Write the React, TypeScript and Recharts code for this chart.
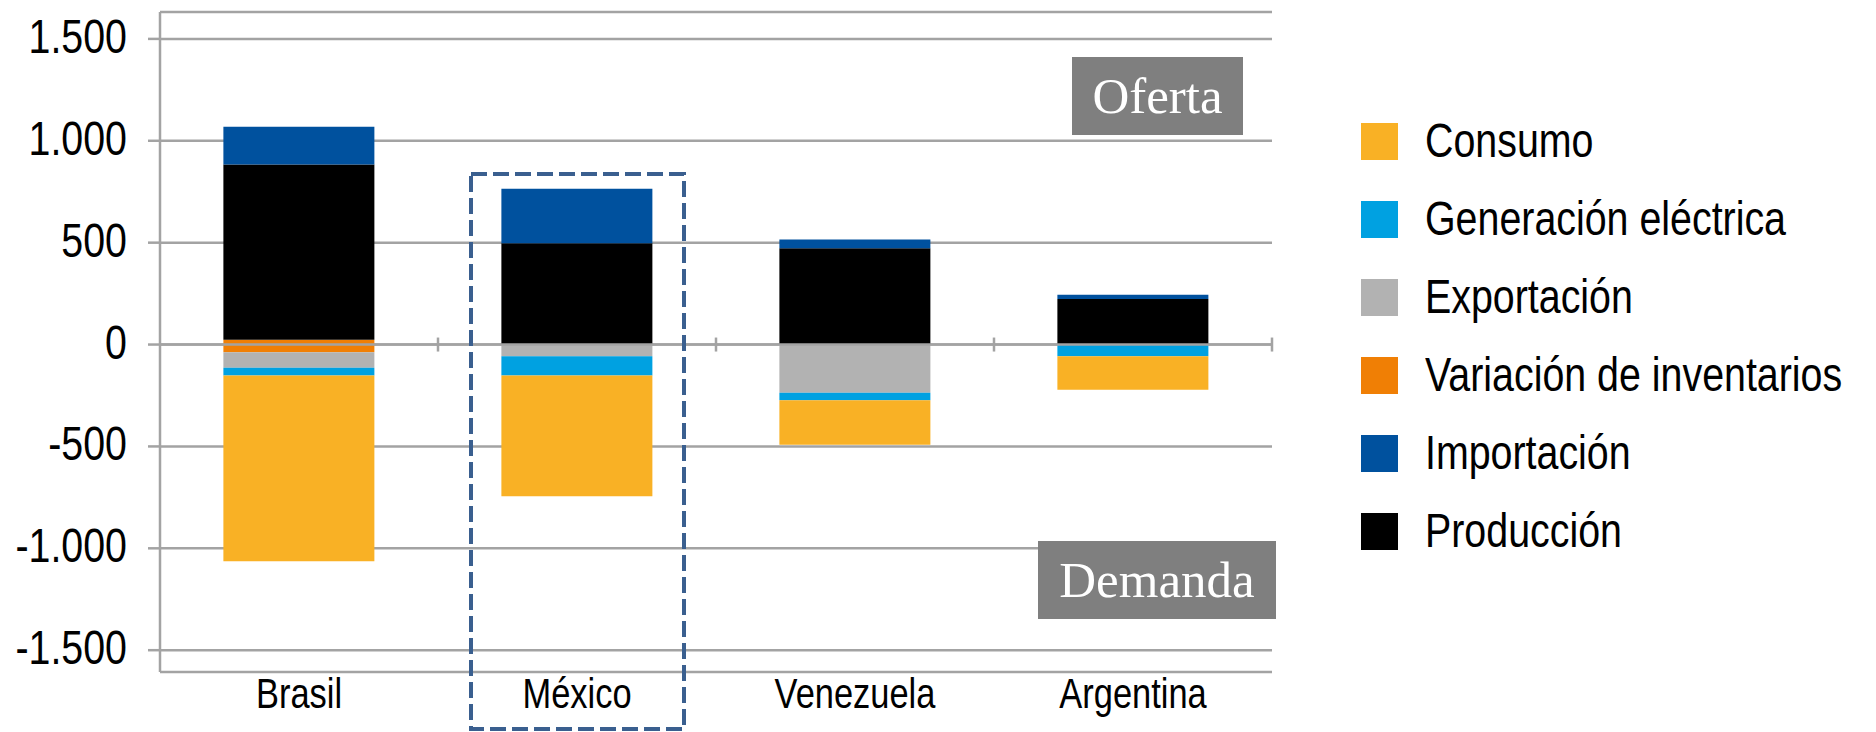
import { Bar, BarChart, CartesianGrid, Legend, ReferenceLine, XAxis, YAxis } from "recharts"

const countries = ["Brasil", "México", "Venezuela", "Argentina"]

// supply (positive) side
const produccion = [861, 497, 472, 224]
const importacion = [185, 267, 43, 20]
const variacion = [23, 0, 0, 0]
// demand (negative) side
const variacionNeg = [-38, 0, 0, 0]
const exportacion = [-76, -57, -237, 0]
const generacion = [-38, -95, -36, -57]
const consumo = [-912, -592, -219, -165]

const yTicks = [-1500, -1000, -500, 0, 500, 1000, 1500]

const colors = {
    consumo: "#F9B125",
    generacion: "#00A1E1",
    exportacion: "#B2B2B2",
    variacion: "#F07F05",
    importacion: "#00519E",
    produccion: "#000000",
}

const legendItems = [
    { key: "consumo", name: "Consumo" },
    { key: "generacion", name: "Generación eléctrica" },
    { key: "exportacion", name: "Exportación" },
    { key: "variacion", name: "Variación de inventarios" },
    { key: "importacion", name: "Importación" },
    { key: "produccion", name: "Producción" },
]

const data = countries.map((name, i) => ({
    name,
    variacion: variacion[i],
    variacionNeg: variacionNeg[i],
    exportacion: exportacion[i],
    generacion: generacion[i],
    consumo: consumo[i],
    produccion: produccion[i],
    importacion: importacion[i],
}))

// no Arial Narrow here, so squeeze Liberation Sans horizontally
const sans = "'Liberation Sans', Arial, sans-serif"
const squeeze = 0.82
const serif = "'Liberation Serif', 'Times New Roman', serif"
const gridColor = "#A3A3A3"

const formatThousands = (v: number) => {
    const s = Math.abs(v).toString().replace(/\B(?=(\d{3})+(?!\d))/g, ".")
    return v < 0 ? `-${s}` : s
}

const YTick = (props: any) => {
    const { x, y, payload } = props
    return (
        <text
            transform={`translate(${x},${y}) scale(${squeeze},1)`}
            textAnchor="end"
            dy={14}
            fontSize={48}
            fontFamily={sans}
            fill="#000"
        >
            {formatThousands(payload.value)}
        </text>
    )
}

const XTick = (props: any) => {
    const { x, y, payload } = props
    return (
        <text
            transform={`translate(${x},${y}) scale(${squeeze},1)`}
            textAnchor="middle"
            dy={30}
            fontSize={42}
            fontFamily={sans}
            fill="#000"
        >
            {payload.value}
        </text>
    )
}

// zero line drawn over the bars, with category separators
const ZeroLine = (props: any) => {
    const { x1, x2, y1 } = props
    const step = (x2 - x1) / countries.length
    return (
        <g>
            <line x1={x1} y1={y1} x2={x2} y2={y1} stroke={gridColor} strokeWidth={2.5} />
            {countries.map((c, i) => {
                const x = x1 + step * (i + 1)
                return <line key={c} x1={x} x2={x} y1={y1 - 7} y2={y1 + 7} stroke={gridColor} strokeWidth={2.5} />
            })}
        </g>
    )
}

const LegendBox = () => (
    <div style={{ fontFamily: sans, fontSize: 48, color: "#000" }}>
        {legendItems.map((item) => (
            <div key={item.key} style={{ display: "flex", alignItems: "center", height: 78 }}>
                <div
                    style={{
                        width: 37,
                        height: 37,
                        flexShrink: 0,
                        background: (colors as any)[item.key],
                        marginRight: 27,
                    }}
                />
                <span
                    style={{
                        display: "inline-block",
                        lineHeight: "48px",
                        whiteSpace: "nowrap",
                        transform: `scaleX(${squeeze})`,
                        transformOrigin: "left center",
                    }}
                >
                    {item.name}
                </span>
            </div>
        ))}
    </div>
)

const labelBox = (text: string, left: number, top: number, width: number) => (
    <div
        style={{
            position: "absolute",
            left,
            top,
            width,
            height: 78,
            background: "#7F7F7F",
            color: "#fff",
            fontFamily: serif,
            fontSize: 51,
            lineHeight: "78px",
            textAlign: "center",
        }}
    >
        {text}
    </div>
)

export default function App() {
    return (
        <div style={{ position: "absolute", left: 0, top: 0, width: 1876, height: 732, background: "#fff" }}>
            <BarChart
                width={1876}
                height={732}
                data={data}
                stackOffset="sign"
                barCategoryGap="22.8%"
                margin={{ top: 12, right: 604, bottom: 0, left: 0 }}
            >
                <CartesianGrid horizontal vertical={false} stroke={gridColor} strokeWidth={2.5} />
                <XAxis
                    dataKey="name"
                    axisLine={false}
                    tickLine={false}
                    tickSize={0}
                    tickMargin={6}
                    height={60}
                    interval={0}
                    tick={<XTick />}
                />
                <YAxis
                    width={160}
                    domain={[-1607, 1632]}
                    ticks={yTicks}
                    allowDataOverflow
                    tickSize={12}
                    tickMargin={21}
                    axisLine={{ stroke: gridColor, strokeWidth: 2.5 }}
                    tickLine={{ stroke: gridColor, strokeWidth: 2.5 }}
                    tick={<YTick />}
                />
                <Legend
                    layout="vertical"
                    align="center"
                    verticalAlign="middle"
                    content={() => <LegendBox />}
                    wrapperStyle={{ left: 1361, top: 102, width: 515, height: 470 }}
                />
                <Bar dataKey="variacion" stackId="a" fill={colors.variacion} isAnimationActive={false} legendType="none" />
                <Bar dataKey="variacionNeg" stackId="a" fill={colors.variacion} isAnimationActive={false} legendType="none" />
                <Bar dataKey="exportacion" stackId="a" fill={colors.exportacion} isAnimationActive={false} />
                <Bar dataKey="generacion" stackId="a" fill={colors.generacion} isAnimationActive={false} />
                <Bar dataKey="consumo" stackId="a" fill={colors.consumo} isAnimationActive={false} />
                <Bar dataKey="produccion" stackId="a" fill={colors.produccion} isAnimationActive={false} />
                <Bar dataKey="importacion" stackId="a" fill={colors.importacion} isAnimationActive={false} />
                <ReferenceLine y={0} shape={ZeroLine} />
            </BarChart>

            {labelBox("Oferta", 1072, 57, 171)}
            {labelBox("Demanda", 1038, 541, 238)}

            <svg width={1876} height={732} style={{ position: "absolute", left: 0, top: 0, pointerEvents: "none" }}>
                <rect x={471} y={174} width={213} height={555} fill="none" stroke="#3A5F8F" strokeWidth={4} strokeDasharray="16 6" />
            </svg>
        </div>
    )
}
